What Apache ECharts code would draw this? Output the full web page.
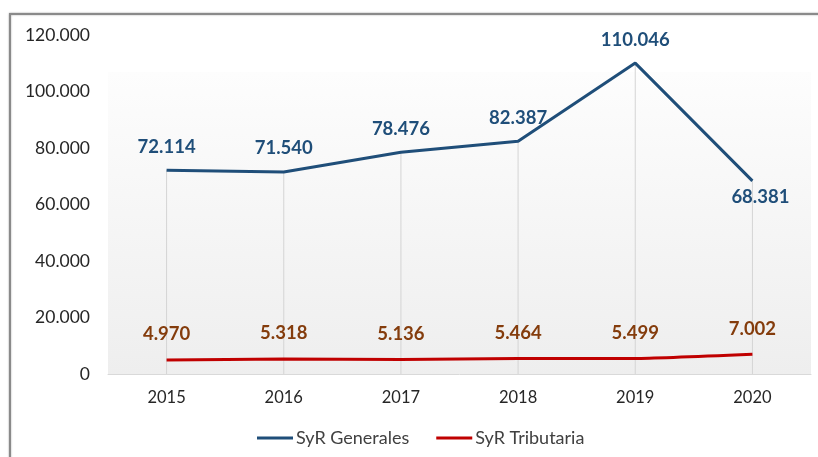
<!DOCTYPE html>
<html>
<head>
<meta charset="utf-8">
<script src="https://cdn.jsdelivr.net/npm/echarts@6/dist/echarts.min.js"></script>
<style>
html,body{margin:0;padding:0;background:#fff;}
#c{width:818px;height:457px;}
</style>
</head>
<body>
<div id="c"></div>
<script>
const years = ['2015', '2016', '2017', '2018', '2019', '2020'];
const generales = [72114, 71540, 78476, 82387, 110046, 68381];
const tributaria = [4970, 5318, 5136, 5464, 5499, 7002];
const yTicks = { min: 0, max: 120000, interval: 20000 };

function fmt(v) {
  return String(v).replace(/\B(?=(\d{3})+(?!\d))/g, '.');
}

const chart = echarts.init(document.getElementById('c'));
chart.setOption({
  backgroundColor: '#ffffff',
  animation: false,
  textStyle: { fontFamily: 'Lato' },
  graphic: {
    elements: [
      {
        type: 'rect', z: -20, silent: true,
        shape: { x: 10, y: 14, width: 840, height: 480 },
        style: { fill: '#ffffff', stroke: '#8a8a8a', lineWidth: 2, shadowBlur: 2, shadowColor: 'rgba(0,0,0,0.35)' }
      },
      {
        type: 'rect', z: -10, silent: true,
        shape: { x: 108, y: 72, width: 703, height: 302 },
        style: {
          fill: new echarts.graphic.LinearGradient(0, 0, 0, 1, [
            { offset: 0, color: '#fdfdfd' },
            { offset: 1, color: '#eeeeee' }
          ])
        }
      }
    ]
  },
  grid: { left: 108, right: 7, top: 35, bottom: 83, containLabel: false },
  legend: {
    data: ['SyR Generales', 'SyR Tributaria'],
    left: 257, top: 429, padding: 0,
    icon: 'rect', itemWidth: 36, itemHeight: 3, itemGap: 27,
    textStyle: { fontFamily: 'Lato', fontSize: 18, color: '#404040', padding: [0, 0, 0, -2] }
  },
  xAxis: {
    type: 'category',
    data: years,
    boundaryGap: true,
    axisLine: { lineStyle: { color: '#d9d9d9', width: 1 } },
    axisTick: { show: false },
    axisLabel: { color: '#262626', fontSize: 16.5, fontFamily: 'Lato', margin: 15 }
  },
  yAxis: {
    type: 'value',
    min: yTicks.min, max: yTicks.max, interval: yTicks.interval,
    axisLine: { show: false },
    axisTick: { show: false },
    splitLine: { show: false },
    axisLabel: { color: '#262626', fontSize: 17.5, fontFamily: 'Lato', margin: 18, formatter: fmt }
  },
  series: [
    {
      name: 'drop',
      type: 'bar',
      data: generales,
      barWidth: 1,
      z: 1,
      silent: true,
      itemStyle: { color: '#d4d4d4' },
      label: { show: false }
    },
    {
      name: 'SyR Generales',
      type: 'line',
      data: generales.map((v, i) => i === 5
        ? { value: v, label: { position: 'bottom', distance: 7, offset: [8, 0] } }
        : v),
      symbol: 'circle',
      symbolSize: 0.1,
      z: 3,
      lineStyle: { color: '#1f4e79', width: 3 },
      itemStyle: { color: '#1f4e79' },
      label: {
        show: true, position: 'top', distance: 14,
        color: '#1f4e79', fontSize: 18.5, fontWeight: 'bold', fontFamily: 'Lato',
        formatter: p => fmt(p.value)
      }
    },
    {
      name: 'SyR Tributaria',
      type: 'line',
      data: tributaria,
      symbol: 'circle',
      symbolSize: 0.1,
      smooth: 0.15,
      z: 3,
      lineStyle: { color: '#c00000', width: 3 },
      itemStyle: { color: '#c00000' },
      label: {
        show: true, position: 'top', distance: 16,
        color: '#843c0c', fontSize: 18.5, fontWeight: 'bold', fontFamily: 'Lato',
        formatter: p => fmt(p.value)
      }
    }
  ]
});
</script>
</body>
</html>
